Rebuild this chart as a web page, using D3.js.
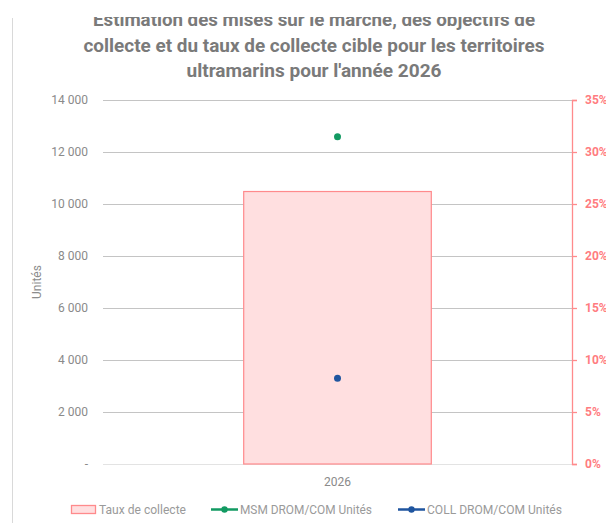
<!DOCTYPE html>
<html>
<head>
<meta charset="utf-8">
<script src="https://cdn.jsdelivr.net/npm/d3@7"></script>
<style>
  body { margin: 0; background: #fff; }
  svg { display: block; font-family: Roboto, "Liberation Sans", sans-serif; }
</style>
</head>
<body>
<div id="container"></div>
<script>
const years = ['2026'];
const tauxCollecte = [0.262];
const msmUnites = [12590];
const collUnites = [3296];
const leftTicks = [0, 2000, 4000, 6000, 8000, 10000, 12000, 14000];
const rightTicks = [0, 0.05, 0.1, 0.15, 0.2, 0.25, 0.3, 0.35];
const titleLines = [
  'Estimation des mises sur le marché, des objectifs de',
  'collecte et du taux de collecte cible pour les territoires',
  "ultramarins pour l'année 2026"
];
const legendLabels = ['Taux de collecte', 'MSM DROM/COM Unités', 'COLL DROM/COM Unités'];

const width = 606;
const height = 523;
const margin = { top: 100, right: 34, bottom: 59, left: 103 };

const svg = d3.select('#container')
  .append('svg')
  .attr('width', width)
  .attr('height', height);

const x = d3.scaleBand()
  .domain(years)
  .range([margin.left, width - margin.right])
  .paddingInner(0.6)
  .paddingOuter(0.3);

const y = d3.scaleLinear()
  .domain([0, 14000])
  .range([height - margin.bottom, margin.top]);

const y2 = d3.scaleLinear()
  .domain([0, 0.35])
  .range([height - margin.bottom, margin.top]);

// title (top of first line is cut off by the frame)
const titleWidths = [442, 461, 255];
svg.append('g')
  .selectAll('text')
  .data(titleLines)
  .enter()
  .append('text')
  .attr('x', 314)
  .attr('y', (d, i) => 26 + i * 25.5)
  .attr('text-anchor', 'middle')
  .attr('font-size', '18.5px')
  .attr('font-weight', 'bold')
  .attr('fill', '#7a7a7a')
  .attr('textLength', (d, i) => titleWidths[i])
  .attr('lengthAdjust', 'spacingAndGlyphs')
  .text(d => d);

svg.append('rect')
  .attr('x', 0).attr('y', 0)
  .attr('width', width).attr('height', 17)
  .attr('fill', '#fff');

// left frame line
svg.append('line')
  .attr('x1', 12.5).attr('x2', 12.5)
  .attr('y1', 18).attr('y2', height)
  .attr('stroke', '#d9d9d9');

// grid lines
svg.append('g')
  .selectAll('line')
  .data(leftTicks)
  .enter()
  .append('line')
  .attr('x1', margin.left)
  .attr('x2', width - margin.right)
  .attr('y1', d => Math.round(y(d)) + 0.5)
  .attr('y2', d => Math.round(y(d)) + 0.5)
  .attr('stroke', d => d === 0 ? '#e3e3e3' : '#c4c4c4')
  .attr('stroke-width', 1.2);

// left axis
const fmt = d => d === 0 ? '-' : d3.format(',')(d).replace(',', '\u00a0');
const leftAxis = svg.append('g')
  .attr('transform', `translate(${margin.left - 15},0)`)
  .call(d3.axisLeft(y).tickValues(leftTicks).tickSize(0).tickPadding(0).tickFormat(fmt));
leftAxis.select('.domain').remove();
leftAxis.selectAll('text')
  .attr('font-size', '12px')
  .attr('fill', '#8a8a8a')
  .attr('font-family', 'Roboto, sans-serif');

svg.append('text')
  .attr('transform', `translate(41,${(margin.top + height - margin.bottom) / 2}) rotate(-90)`)
  .attr('text-anchor', 'middle')
  .attr('font-size', '12px')
  .attr('fill', '#8c8c8c')
  .text('Unités');

// bar (taux de collecte)
svg.append('g')
  .selectAll('rect')
  .data(tauxCollecte)
  .enter()
  .append('rect')
  .attr('x', (d, i) => x(years[i]))
  .attr('width', x.bandwidth())
  .attr('y', d => y2(d))
  .attr('height', d => y2(0) - y2(d))
  .attr('fill', '#ffdfe0')
  .attr('stroke', '#ff8a8c')
  .attr('stroke-width', 1.2);

// right axis
const rightAxis = svg.append('g')
  .attr('transform', `translate(${width - margin.right},0)`)
  .call(d3.axisRight(y2).tickValues(rightTicks).tickSize(5).tickPadding(8).tickFormat(d3.format('.0%')));
rightAxis.select('.domain').attr('stroke', '#ff8a8c').attr('stroke-width', 1.3);
rightAxis.selectAll('.tick line').attr('stroke', '#ff8a8c').attr('stroke-width', 1.3);
rightAxis.selectAll('text')
  .attr('font-size', '12px')
  .attr('font-weight', 'bold')
  .attr('fill', '#ff7c80')
  .attr('font-family', 'Roboto, sans-serif');

// points
svg.append('g')
  .selectAll('circle')
  .data(msmUnites)
  .enter()
  .append('circle')
  .attr('cx', (d, i) => x(years[i]) + x.bandwidth() / 2)
  .attr('cy', d => y(d))
  .attr('r', 3.5)
  .attr('fill', '#129a62');

svg.append('g')
  .selectAll('circle')
  .data(collUnites)
  .enter()
  .append('circle')
  .attr('cx', (d, i) => x(years[i]) + x.bandwidth() / 2)
  .attr('cy', d => y(d))
  .attr('r', 3.5)
  .attr('fill', '#1f559f');

// x label
svg.append('g')
  .selectAll('text')
  .data(years)
  .enter()
  .append('text')
  .attr('x', d => x(d) + x.bandwidth() / 2)
  .attr('y', 486)
  .attr('text-anchor', 'middle')
  .attr('font-size', '12px')
  .attr('fill', '#8a8a8a')
  .text(d => d);

// legend
const legend = svg.append('g').attr('font-size', '13px').attr('fill', '#9a9a9a');
legend.append('rect')
  .attr('x', 71.5).attr('y', 505.5).attr('width', 24).attr('height', 8)
  .attr('fill', '#ffdfe0').attr('stroke', '#ff8a8c').attr('stroke-width', 1.3);
legend.append('text').attr('x', 99).attr('y', 514)
  .attr('textLength', 87).attr('lengthAdjust', 'spacingAndGlyphs')
  .text(legendLabels[0]);

const lineItems = [
  { x: 211, color: '#129a62', label: legendLabels[1], w: 132 },
  { x: 398, color: '#1f559f', label: legendLabels[2], w: 135 }
];
lineItems.forEach(it => {
  legend.append('line')
    .attr('x1', it.x).attr('x2', it.x + 27)
    .attr('y1', 509.5).attr('y2', 509.5)
    .attr('stroke', it.color).attr('stroke-width', 2.5);
  legend.append('circle')
    .attr('cx', it.x + 13.5).attr('cy', 509.5).attr('r', 3.2)
    .attr('fill', it.color);
  legend.append('text').attr('x', it.x + 29).attr('y', 514)
    .attr('textLength', it.w).attr('lengthAdjust', 'spacingAndGlyphs')
    .text(it.label);
});
</script>
</body>
</html>
